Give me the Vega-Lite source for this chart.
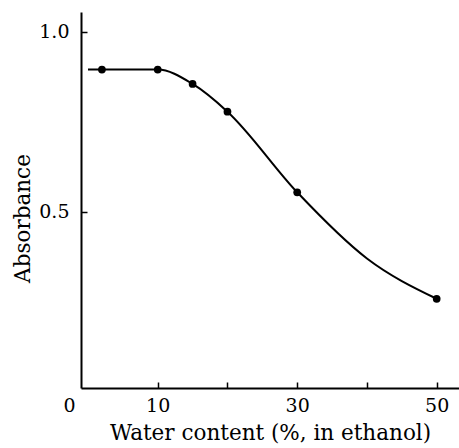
{
  "$schema": "https://vega.github.io/schema/vega-lite/v6.json",
  "width": 378,
  "height": 376,
  "autosize": {"type": "none"},
  "padding": {"left": 81, "top": 12, "right": 0, "bottom": 60},
  "background": "white",
  "config": {
    "view": {"stroke": null},
    "axis": {
      "grid": false,
      "domainColor": "black",
      "domainWidth": 2,
      "tickColor": "black",
      "tickWidth": 1.5,
      "tickSize": -6,
      "labelColor": "black",
      "titleColor": "black",
      "labelFont": "DejaVu Serif",
      "titleFont": "DejaVu Serif",
      "labelFontSize": 19,
      "titleFontSize": 21.5,
      "titleFontWeight": "normal"
    }
  },
  "datasets": {
    "curve": [
      {"water": 0, "absorbance": 0.895},
      {"water": 10, "absorbance": 0.895},
      {"water": 15, "absorbance": 0.855},
      {"water": 20, "absorbance": 0.778},
      {"water": 30, "absorbance": 0.554},
      {"water": 40, "absorbance": 0.37},
      {"water": 50, "absorbance": 0.258}
    ],
    "points": [
      {"water": 2, "absorbance": 0.895},
      {"water": 10, "absorbance": 0.895},
      {"water": 15, "absorbance": 0.855},
      {"water": 20, "absorbance": 0.778},
      {"water": 30, "absorbance": 0.554},
      {"water": 50, "absorbance": 0.258}
    ]
  },
  "encoding": {
    "x": {
      "field": "water",
      "type": "quantitative",
      "scale": {"domain": [-1, 53.2], "nice": false, "zero": false},
      "axis": {
        "title": "Water content (%, in ethanol)",
        "values": [0, 10, 20, 30, 40, 50],
        "labelExpr": "datum.value == 20 || datum.value == 40 ? '' : datum.label",
        "tickOpacity": {"condition": {"test": "datum.value == 0", "value": 0}, "value": 1},
        "labelOffset": {"condition": {"test": "datum.value == 0", "value": -19}, "value": 0},
        "labelPadding": 14,
        "titlePadding": 7
      }
    },
    "y": {
      "field": "absorbance",
      "type": "quantitative",
      "scale": {"domain": [0.01, 1.055], "nice": false, "zero": false},
      "axis": {
        "title": "Absorbance",
        "values": [0.5, 1.0],
        "format": ".1f",
        "labelPadding": 18,
        "titlePadding": 4,
        "titleY": 206
      }
    }
  },
  "layer": [
    {
      "data": {"name": "curve"},
      "mark": {"type": "line", "color": "black", "strokeWidth": 2, "interpolate": "monotone"}
    },
    {
      "data": {"name": "points"},
      "mark": {"type": "point", "filled": true, "color": "black", "opacity": 1, "size": 60}
    }
  ]
}
